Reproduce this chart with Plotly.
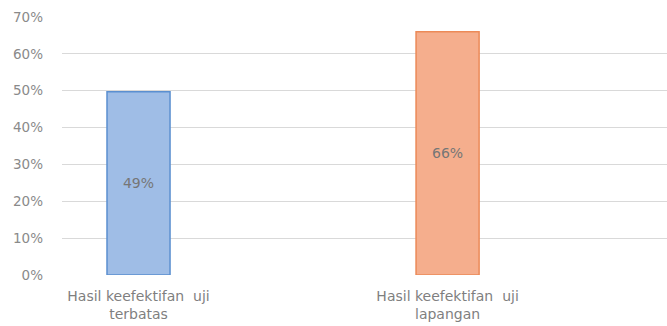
import plotly.graph_objects as go

categories = ["Hasil keefektifan  uji<br>terbatas", "Hasil keefektifan  uji<br>lapangan"]
values = [0.497, 0.66]
labels = ["49%", "66%"]
fill_colors = ["#9fbde6", "#f5ae8d"]
line_colors = ["#5b8fd0", "#ec8a58"]

fig = go.Figure()
fig.add_trace(go.Bar(
    x=[0, 1], y=values, text=labels,
    textposition="inside", insidetextanchor="middle",
    textfont=dict(family="DejaVu Sans", size=14, color="#767676"),
    marker=dict(color=fill_colors, line=dict(color=line_colors, width=1.5)),
    width=0.204,
))
fig.update_layout(
    width=667, height=326,
    margin=dict(l=62, r=0, t=17, b=51),
    plot_bgcolor="white", paper_bgcolor="white",
    showlegend=False,
    font=dict(family="DejaVu Sans", color="#808080"),
    xaxis=dict(
        range=[-0.2476, 1.71], tickvals=[0, 1], ticktext=categories,
        showgrid=False, zeroline=False, showline=False,
        tickfont=dict(size=14, color="#7f7f7f"),
        ticks="outside", ticklen=8, tickcolor="rgba(0,0,0,0)",
    ),
    yaxis=dict(
        range=[0, 0.7], dtick=0.1, tickformat=".0%",
        gridcolor="#d9d9d9", gridwidth=1, zeroline=False, showline=False,
        tickfont=dict(size=13.5, color="#8a8a8a"),
        ticklabelstandoff=18,
    ),
)
fig.write_html("out.html")
